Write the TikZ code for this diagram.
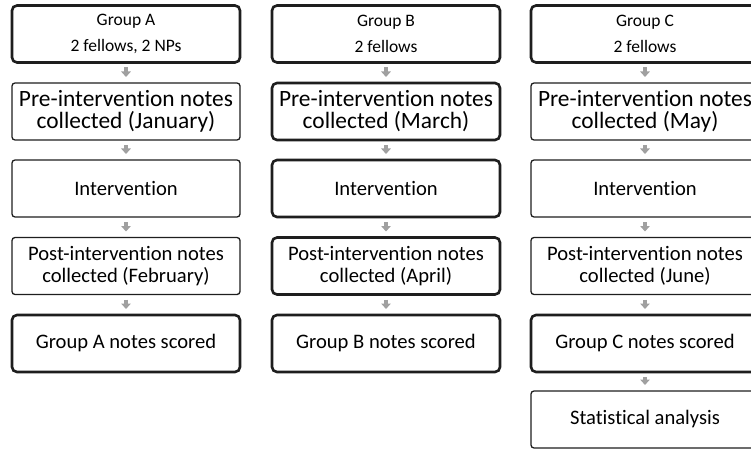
\documentclass[tikz,border=0pt]{standalone}
\usepackage{fontspec}
\setmainfont{Carlito}[RawFeature={-liga;-dlig}]
\usetikzlibrary{arrows.meta}
\definecolor{edge}{HTML}{1E1E1E}
\definecolor{arr}{HTML}{A0A0A0}
\tikzset{
  box/.style={draw=edge, fill=white, minimum width=228pt, minimum height=57pt,
    inner sep=0pt, outer sep=0pt, align=center},
  boldbox/.style={box, line width=2.6pt, rounded corners=5pt},
  lightbox/.style={box, line width=1.3pt, rounded corners=3pt},
  hdr/.style={font=\fontsize{17.5}{26}\selectfont},
  big/.style={font=\fontsize{23.4}{22}\selectfont},
  mid/.style={font=\fontsize{20.6}{22}\selectfont},
  flow/.style={draw=arr, line width=4.5pt, -{Triangle[width=9.5pt,length=5.5pt]},
    shorten <=5pt, shorten >=6pt}
}
\begin{document}
\begin{tikzpicture}[x=1pt,y=-1pt]
\useasboundingbox (0,0) rectangle (751,449);
% Column A
\node[boldbox,hdr] (a1) at (126,34) {Group A\\2 fellows, 2 NPs};
\node[lightbox,big] (a2) at (126,111.5) {Pre-intervention notes\\collected (January)};
\node[lightbox,mid] (a3) at (126,188.5) {Intervention};
\node[lightbox,mid] (a4) at (126,266) {Post-intervention notes\\collected (February)};
\node[boldbox,mid] (a5) at (126,343.5) {Group A notes scored};
% Column B
\node[boldbox,hdr] (b1) at (386,34) {Group B\\2 fellows};
\node[boldbox,big] (b2) at (386,111.5) {Pre-intervention notes\\collected (March)};
\node[boldbox,mid] (b3) at (386,188.5) {Intervention};
\node[boldbox,mid] (b4) at (386,266) {Post-intervention notes\\collected (April)};
\node[boldbox,mid] (b5) at (386,343.5) {Group B notes scored};
% Column C
\node[boldbox,hdr] (c1) at (645,34) {Group C\\2 fellows};
\node[lightbox,big] (c2) at (645,111.5) {Pre-intervention notes\\collected (May)};
\node[lightbox,mid] (c3) at (645,188.5) {Intervention};
\node[lightbox,mid] (c4) at (645,266) {Post-intervention notes\\collected (June)};
\node[boldbox,mid] (c5) at (645,343.5) {Group C notes scored};
\node[lightbox,mid] (c6) at (645,419.5) {Statistical analysis};
% Arrows
\foreach \col in {a,b,c}{
  \draw[flow] (\col1.south) -- (\col2.north);
  \draw[flow] (\col2.south) -- (\col3.north);
  \draw[flow] (\col3.south) -- (\col4.north);
  \draw[flow] (\col4.south) -- (\col5.north);
}
\draw[flow] (c5.south) -- (c6.north);
\end{tikzpicture}
\end{document}
